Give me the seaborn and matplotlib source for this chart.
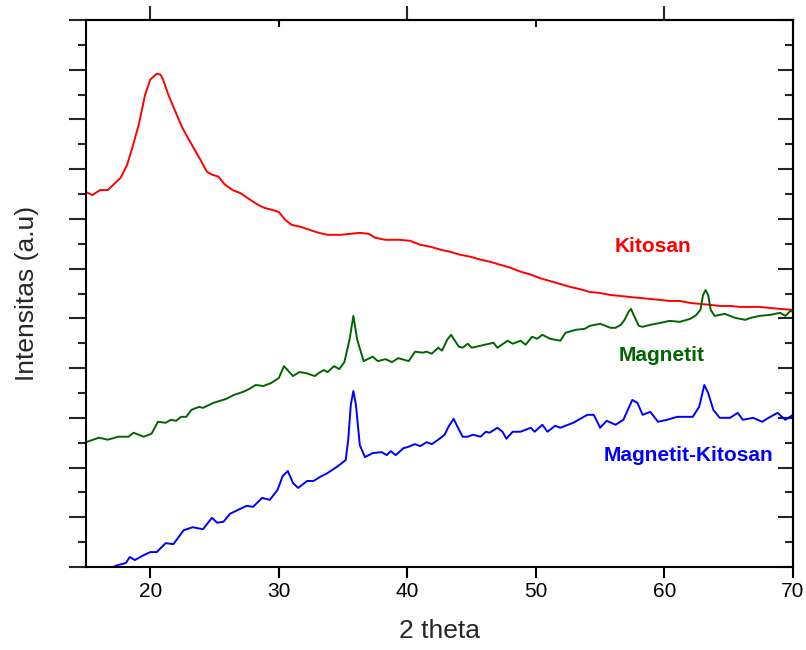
import numpy as np
import pandas as pd
import matplotlib
matplotlib.use("Agg")
import matplotlib.pyplot as plt
from matplotlib.ticker import MultipleLocator, FixedLocator, NullFormatter
import seaborn as sns

# ---- data (2 theta, intensity a.u.) ----
kitosan_x = [15.0, 15.5, 16.1, 16.7, 17.3, 17.7, 18.2, 18.6, 19.1, 19.6, 20.0, 20.5, 20.8, 21.0, 21.4,
             21.9, 22.5, 23.1, 23.9, 24.4, 24.8, 25.3, 25.8, 26.4, 27.0, 27.8, 28.4, 28.9, 29.5, 30.0,
             30.5, 31.0, 31.7, 32.4, 33.1, 33.8, 34.8, 35.6, 36.3, 37.0, 37.5, 38.3, 39.4, 40.2, 41.0,
             41.8, 42.6, 43.3, 44.1, 44.9, 45.7, 46.4, 47.2, 48.0, 48.8, 49.6, 50.3, 51.1, 51.9, 52.7,
             53.4, 54.2, 55.0, 55.8, 56.6, 57.3, 58.1, 58.9, 59.7, 60.4, 61.2, 62.0, 62.8, 63.6, 64.3,
             65.1, 65.9, 66.7, 67.4, 68.2, 69.0, 70.0]
kitosan_y = [754, 748, 758, 758, 773, 783, 809, 843, 889, 950, 980, 992, 990, 980, 950,
             919, 883, 855, 819, 795, 789, 785, 769, 758, 752, 738, 728, 722, 718, 714,
             698, 688, 684, 678, 672, 668, 668, 670, 672, 670, 662, 658, 658, 656, 648,
             644, 638, 634, 628, 624, 618, 614, 608, 602, 594, 588, 581, 575, 569, 563,
             559, 553, 551, 547, 545, 543, 541, 539, 537, 535, 535, 531, 529, 527, 525,
             525, 523, 523, 523, 521, 519, 517]

magnetit_x = [15.0, 16.0, 16.7, 17.5, 18.3, 18.7, 19.5, 20.1, 20.6, 21.2, 21.6, 22.0, 22.4, 22.8, 23.2,
              23.8, 24.1, 24.9, 25.4, 25.9, 26.5, 27.2, 27.7, 28.2, 28.8, 29.4, 30.0, 30.4, 31.1, 31.6,
              32.1, 32.8, 33.1, 33.5, 33.8, 34.3, 34.7, 35.1, 35.5, 35.8, 36.1, 36.6, 37.3, 37.7, 38.3,
              38.8, 39.3, 40.1, 40.6, 41.2, 41.5, 41.9, 42.4, 42.7, 43.1, 43.4, 43.7, 44.0, 44.3, 44.7,
              45.0, 45.7, 46.7, 47.0, 47.8, 48.2, 48.8, 49.2, 49.7, 50.1, 50.5, 51.1, 51.9,
              52.3, 53.1, 53.8, 54.2, 55.0, 55.8, 56.2, 56.6, 56.9, 57.2, 57.4, 57.6, 58.0, 58.3, 58.9,
              59.7, 60.4, 61.2, 62.0, 62.4, 62.8, 63.0, 63.2, 63.4, 63.6, 63.9, 64.7, 65.5, 66.3, 66.7,
              67.4, 68.2, 69.0, 69.4, 69.8, 70.0]
magnetit_y = [251, 260, 256, 262, 262, 270, 262, 268, 292, 290, 296, 294, 302, 302, 316,
              322, 320, 330, 334, 338, 346, 352, 358, 366, 364, 370, 380, 404, 384, 392,
              390, 384, 390, 396, 392, 404, 398, 412, 457, 505, 457, 414, 423, 414, 418,
              412, 420, 414, 433, 431, 433, 429, 441, 435, 457, 467, 455, 443, 441, 449,
              441, 445, 451, 441, 455, 449, 455, 447, 463, 459, 467, 459, 455,
              471, 477, 479, 485, 489, 481, 481, 487, 497, 513, 519, 507, 485, 483, 487,
              491, 495, 493, 499, 505, 517, 547, 557, 547, 517, 505, 509, 501, 497, 501,
              505, 507, 511, 505, 515, 513]

mk_x = [15.0, 16.9, 17.5, 18.1, 18.4, 18.8, 19.5, 20.0, 20.5, 21.2, 21.8, 22.6, 23.3, 24.1, 24.8,
        25.2, 25.7, 26.2, 27.0, 27.5, 28.0, 28.7, 29.3, 29.9, 30.3, 30.7, 31.1, 31.5, 32.2, 32.7,
        33.2, 33.8, 34.5, 35.2, 35.4, 35.6, 35.8,
        36.0, 36.3, 36.7, 37.3, 38.0, 38.4, 38.7, 39.1, 39.7, 40.0, 40.6, 41.0, 41.5, 41.9, 42.4,
        42.9, 43.2, 43.6, 43.9, 44.3, 44.7, 45.1, 45.7, 46.1, 46.4, 47.0, 47.4, 47.7, 48.2, 48.8,
        49.6, 49.9, 50.5, 50.9, 51.5, 51.9,
        52.9, 54.0, 54.5, 55.0, 55.5, 56.2, 56.8, 57.5, 57.9, 58.3, 58.9, 59.5, 60.2, 61.0, 62.2,
        62.7, 63.1, 63.4, 63.8, 64.3, 65.1, 65.7, 66.1, 66.9, 67.6, 68.1, 68.8, 69.4, 70.0]
mk_y = [-4, -2, 4, 8, 20, 14, 24, 30, 30, 48, 46, 74, 80, 76, 99,
        89, 91, 107, 117, 123, 121, 139, 135, 155, 183, 193, 169, 159, 173, 173,
        181, 189, 201, 215, 256, 326, 354,
        326, 245, 221, 229, 231, 225, 233, 225, 239, 241, 247, 243, 251, 247, 256,
        266, 282, 298, 282, 262, 262, 266, 262, 272, 270, 280, 272, 258, 272, 272,
        280, 272, 286, 272, 284, 280,
        290, 306, 306, 280, 294, 286, 296, 336, 330, 306, 312, 292, 296, 302, 302,
        322, 366, 350, 316, 300, 300, 310, 296, 300, 292, 300, 310, 296, 306]

series_names = ["Kitosan", "Magnetit", "Magnetit-Kitosan"]
series_colors = ["#ff0000", "#006400", "#0000ff"]
label_x = [59.1, 59.8, 61.9]
label_y = [644, 425, 225]

df = pd.concat([
    pd.DataFrame({"theta": kitosan_x, "I": kitosan_y, "s": series_names[0]}),
    pd.DataFrame({"theta": magnetit_x, "I": magnetit_y, "s": series_names[1]}),
    pd.DataFrame({"theta": mk_x, "I": mk_y, "s": series_names[2]}),
], ignore_index=True)

sns.set_style("white")
plt.rcParams["font.family"] = ["Liberation Sans", "DejaVu Sans"]

fig = plt.figure(figsize=(8.06, 6.5), dpi=100)
ax = fig.add_axes([86 / 806, 83 / 650, 707 / 806, 547 / 650])

sns.lineplot(data=df, x="theta", y="I", hue="s", palette=dict(zip(series_names, series_colors)),
             linewidth=1.4, legend=False, ax=ax, sort=False, estimator=None)

ax.set_xlim(15, 70)
ax.set_ylim(0, 1100)

for sp in ax.spines.values():
    sp.set_linewidth(1.5)
    sp.set_color("black")

# top axis (outward major ticks at 20, 40, 60)
top = ax.secondary_xaxis("top")
top.xaxis.set_major_locator(FixedLocator([20, 40, 60]))
top.xaxis.set_minor_locator(FixedLocator([]))
top.xaxis.set_major_formatter(NullFormatter())
top.tick_params(which="major", direction="out", length=10, width=1.5)
top.spines["top"].set_linewidth(1.5)

# top inward small ticks at 30, 50 via a twin axes
ax_t = ax.twiny()
ax_t.set_xlim(15, 70)
ax_t.xaxis.set_major_locator(FixedLocator([30, 50]))
ax_t.xaxis.set_minor_locator(FixedLocator([]))
ax_t.xaxis.set_major_formatter(NullFormatter())
ax_t.tick_params(axis="x", which="major", direction="in", length=5, width=1.5,
                 top=True, bottom=False, labeltop=False, labelbottom=False, color="black")
ax_t.tick_params(axis="y", left=False, right=False, labelleft=False, labelright=False)
for sp in ax_t.spines.values():
    sp.set_visible(False)

# right axis (inward ticks)
right = ax.secondary_yaxis("right")
right.yaxis.set_major_locator(MultipleLocator(100))
right.yaxis.set_minor_locator(MultipleLocator(50))
right.yaxis.set_major_formatter(NullFormatter())
right.tick_params(which="major", direction="in", length=11, width=1.5)
right.tick_params(which="minor", direction="in", length=6, width=1.5)
right.spines["right"].set_linewidth(1.5)

# main axis ticks
ax.xaxis.set_major_locator(MultipleLocator(10))
ax.yaxis.set_major_locator(MultipleLocator(100))
ax.yaxis.set_minor_locator(MultipleLocator(50))
ax.yaxis.set_major_formatter(NullFormatter())
ax.tick_params(axis="x", which="major", direction="out", length=8, width=1.5,
               bottom=True, top=False, labelsize=15, pad=3, colors="black")
ax.tick_params(axis="y", which="major", direction="out", length=12, width=1.5,
               left=True, right=False)
ax.tick_params(axis="y", which="minor", direction="out", length=6, width=1.5,
               left=True, right=False)

ax.set_xlabel("2 theta", fontsize=19, labelpad=13)
ax.set_ylabel("Intensitas (a.u)", fontsize=19, labelpad=18)

for name, c, lx, ly in zip(series_names, series_colors, label_x, label_y):
    ax.text(lx, ly, name, color=c, fontsize=15, fontweight="bold", ha="center", va="center")

fig.savefig("out.png", dpi=100)
